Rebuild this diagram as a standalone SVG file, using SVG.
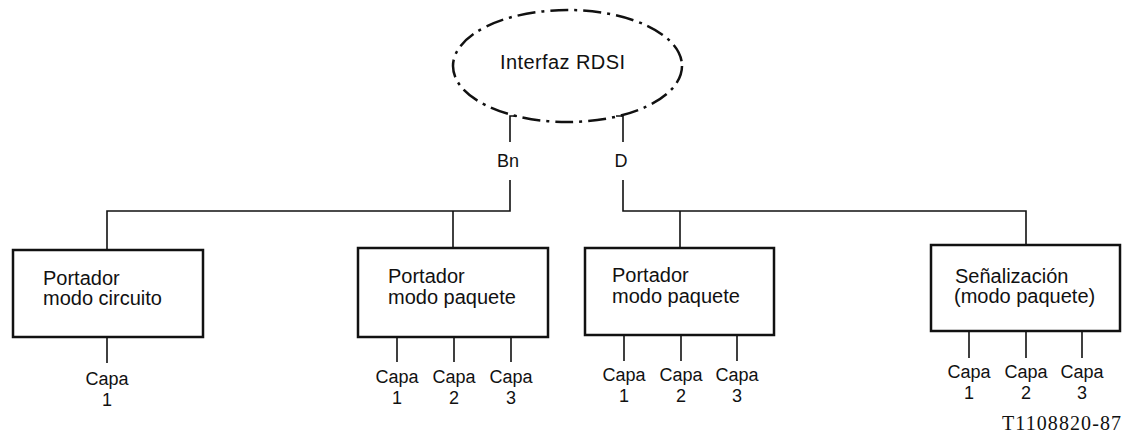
<svg xmlns="http://www.w3.org/2000/svg" width="1123" height="443" viewBox="0 0 1123 443">
  <style>
    .box { fill: #fff; stroke: #111; stroke-width: 2.5; }
    .wire { fill: none; stroke: #111; stroke-width: 1.6; }
    .lbl { font-family: "Liberation Sans", Arial, sans-serif; font-size: 20px; fill: #111; }
    .capa { font-family: "Liberation Sans", Arial, sans-serif; font-size: 18px; fill: #111; text-anchor: middle; }
    .ch { font-family: "Liberation Sans", Arial, sans-serif; font-size: 18px; fill: #111; text-anchor: middle; }
    .ref { font-family: "Liberation Serif", "Times New Roman", serif; font-size: 20px; fill: #111; }
  </style>

  <!-- ISDN interface (dash-dot ellipse) -->
  <g id="interfaz">
    <ellipse cx="567.5" cy="66" rx="114.5" ry="56" fill="none" stroke="#111" stroke-width="2.5" stroke-dasharray="18 6 3 6"/>
    <text class="lbl" x="500" y="69" textLength="125">Interfaz RDSI</text>
  </g>

  <!-- connectors -->
  <g id="connectors" class="wire">
    <!-- Bn channel -->
    <path d="M517 116 H510 V142"/>
    <path d="M510 180 V211 H107 V250"/>
    <path d="M453 211 V248"/>
    <!-- D channel -->
    <path d="M616 116 H623 V142"/>
    <path d="M623 180 V211 H1026 V245"/>
    <path d="M680 211 V248"/>
    <!-- layer stubs -->
    <path d="M107 337 V363"/>
    <path d="M397 337 V362 M454 337 V362 M511 337 V362"/>
    <path d="M624 335 V361 M681 335 V361 M737 335 V361"/>
    <path d="M969 331 V358 M1026 331 V358 M1082 331 V358"/>
  </g>

  <!-- channel labels -->
  <g id="channel-labels">
    <text class="ch" x="508" y="167">Bn</text>
    <text class="ch" x="621" y="167">D</text>
  </g>

  <!-- circuit-mode bearer -->
  <g id="portador-circuito">
    <rect class="box" x="13" y="250" width="190" height="87"/>
    <text class="lbl" x="43" y="285">Portador</text>
    <text class="lbl" x="43" y="305">modo circuito</text>
    <text class="capa" x="107" y="385">Capa</text>
    <text class="capa" x="107" y="406">1</text>
  </g>

  <!-- packet-mode bearer (Bn) -->
  <g id="portador-paquete-bn">
    <rect class="box" x="358" y="248" width="190" height="89"/>
    <text class="lbl" x="388" y="283">Portador</text>
    <text class="lbl" x="388" y="304">modo paquete</text>
    <text class="capa" x="397" y="383">Capa</text>
    <text class="capa" x="397" y="404">1</text>
    <text class="capa" x="454" y="383">Capa</text>
    <text class="capa" x="454" y="404">2</text>
    <text class="capa" x="511" y="383">Capa</text>
    <text class="capa" x="511" y="404">3</text>
  </g>

  <!-- packet-mode bearer (D) -->
  <g id="portador-paquete-d">
    <rect class="box" x="585" y="248" width="189" height="87"/>
    <text class="lbl" x="612" y="282">Portador</text>
    <text class="lbl" x="612" y="303">modo paquete</text>
    <text class="capa" x="624" y="381">Capa</text>
    <text class="capa" x="624" y="402">1</text>
    <text class="capa" x="681" y="381">Capa</text>
    <text class="capa" x="681" y="402">2</text>
    <text class="capa" x="737" y="381">Capa</text>
    <text class="capa" x="737" y="402">3</text>
  </g>

  <!-- signalling -->
  <g id="senalizacion">
    <rect class="box" x="931" y="245" width="189" height="86"/>
    <text class="lbl" x="955" y="283">Señalización</text>
    <text class="lbl" x="954" y="303">(modo paquete)</text>
    <text class="capa" x="969" y="378">Capa</text>
    <text class="capa" x="969" y="399">1</text>
    <text class="capa" x="1026" y="378">Capa</text>
    <text class="capa" x="1026" y="399">2</text>
    <text class="capa" x="1082" y="378">Capa</text>
    <text class="capa" x="1082" y="399">3</text>
  </g>

  <text class="ref" x="1002" y="430" textLength="119">T1108820-87</text>
</svg>
